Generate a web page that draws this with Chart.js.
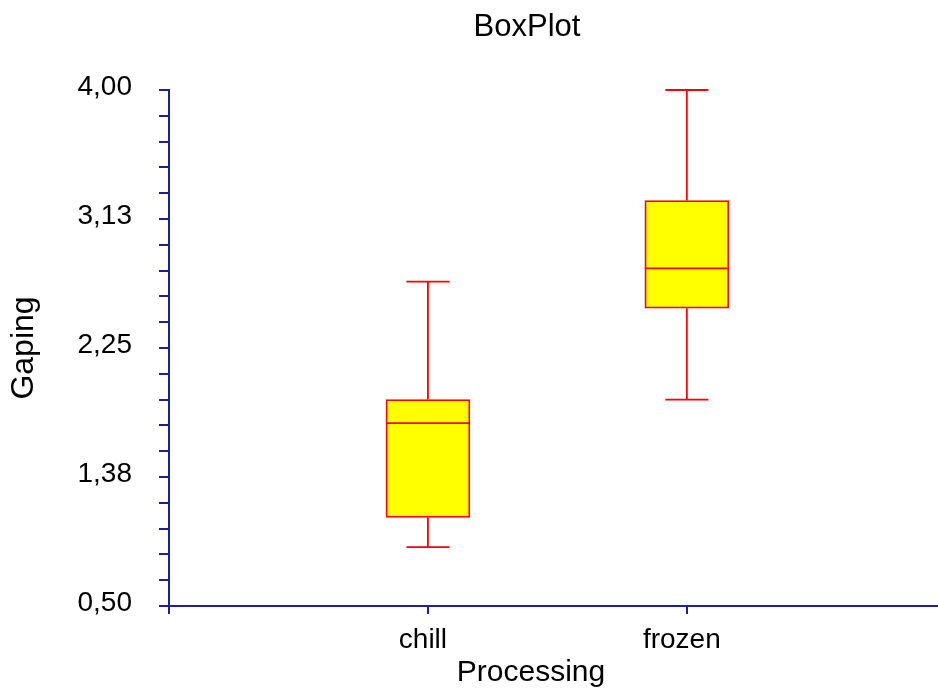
<!DOCTYPE html>
<html>
<head>
<meta charset="utf-8">
<title>BoxPlot</title>
<script src="https://cdn.jsdelivr.net/npm/chart.js@4.4.1/dist/chart.umd.min.js"></script>
<style>
  html, body { margin: 0; padding: 0; background: #fff; }
  #boxChart { display: block; }
</style>
</head>
<body>
<canvas id="boxChart" width="938" height="693"></canvas>
<script>
// values
const categories = ['chill', 'frozen'];
const whiskerLow = [0.90, 1.90];
const quartile1 = [1.10, 2.52];
const medians = [1.74, 2.79];
const quartile3 = [1.90, 3.25];
const whiskerHigh = [2.70, 4.00];

const yMajorTicks = [0.50, 1.375, 2.25, 3.125, 4.00];
const yTickLabels = ['0,50', '1,38', '2,25', '3,13', '4,00'];
const minorPerMajor = 5;

const AXIS_COLOR = '#1f1f96';
const BOX_FILL = '#ffff00';
const BOX_EDGE = '#ff0000';
const FONT = "'Liberation Sans', Arial, sans-serif";
const CAP_HALF = 21.5;

// categories sit at 1, 2 on a linear x axis, with an unlabelled tick at 0
const catPos = categories.map((_, i) => i + 1);
const xTickValues = [0, ...catPos];
const xTickLabels = ['', ...categories];

const yTickValues = [];
yMajorTicks.forEach((v, i) => {
  if (i === 0) {
    yTickValues.push(v);
    return;
  }
  const prev = yMajorTicks[i - 1];
  for (let k = 1; k <= minorPerMajor; k++) {
    yTickValues.push(prev + ((v - prev) * k) / minorPerMajor);
  }
});

Chart.defaults.font.family = FONT;
Chart.defaults.color = '#000';

// whiskers, caps and medians, drawn through the chart's own scales
const whiskerPlugin = {
  id: 'whiskers',
  afterDatasetsDraw(chart) {
    const { ctx, scales } = chart;
    const { x, y } = scales;
    const bars = chart.getDatasetMeta(0).data;
    ctx.save();
    ctx.strokeStyle = BOX_EDGE;
    ctx.lineWidth = 1.8;
    categories.forEach((name, i) => {
      const cx = x.getPixelForValue(catPos[i]);
      const half = bars[i] ? bars[i].width / 2 : 42;
      const yHi = y.getPixelForValue(whiskerHigh[i]);
      const yLo = y.getPixelForValue(whiskerLow[i]);
      const yQ1 = y.getPixelForValue(quartile1[i]);
      const yQ3 = y.getPixelForValue(quartile3[i]);
      const yMed = y.getPixelForValue(medians[i]);
      ctx.beginPath();
      ctx.moveTo(cx, yQ3);
      ctx.lineTo(cx, yHi);
      ctx.moveTo(cx - CAP_HALF, yHi);
      ctx.lineTo(cx + CAP_HALF, yHi);
      ctx.moveTo(cx, yQ1);
      ctx.lineTo(cx, yLo);
      ctx.moveTo(cx - CAP_HALF, yLo);
      ctx.lineTo(cx + CAP_HALF, yLo);
      ctx.moveTo(cx - half, yMed);
      ctx.lineTo(cx + half, yMed);
      ctx.stroke();
    });
    ctx.restore();
  },
};

// chart title and x axis title sit left of the plot centre in the original
const headingsPlugin = {
  id: 'headings',
  afterDraw(chart) {
    const { ctx } = chart;
    ctx.save();
    ctx.fillStyle = '#000';
    ctx.textAlign = 'center';
    ctx.textBaseline = 'alphabetic';
    ctx.font = `31px ${FONT}`;
    ctx.fillText('BoxPlot', 527, 36);
    ctx.font = `30px ${FONT}`;
    ctx.fillText('Processing', 531, 681);
    ctx.restore();
  },
};

new Chart(document.getElementById('boxChart'), {
  type: 'bar',
  data: {
    datasets: [
      {
        label: 'Gaping',
        data: categories.map((_, i) => ({ x: catPos[i], y: [quartile1[i], quartile3[i]] })),
        backgroundColor: BOX_FILL,
        borderColor: BOX_EDGE,
        borderWidth: 1.8,
        borderSkipped: false,
        barThickness: 84,
      },
    ],
  },
  options: {
    responsive: false,
    devicePixelRatio: 1,
    animation: false,
    layout: { padding: { top: 90, right: 0, bottom: 0, left: 0 } },
    plugins: {
      legend: { display: false },
      tooltip: { enabled: false },
      title: { display: false },
    },
    scales: {
      x: {
        type: 'linear',
        offset: false,
        min: 0,
        max: 2.97,
        afterBuildTicks: (scale) => {
          scale.ticks = xTickValues.map((v) => ({ value: v }));
        },
        afterFit: (scale) => {
          scale.height = 87;
        },
        ticks: {
          autoSkip: false,
          maxRotation: 0,
          padding: 9,
          labelOffset: -5,
          font: { size: 28 },
          color: '#000',
          callback: (value, index) => xTickLabels[index] ?? '',
        },
        grid: {
          offset: false,
          drawOnChartArea: false,
          drawTicks: true,
          tickLength: 8,
          color: AXIS_COLOR,
          lineWidth: 2,
        },
        border: { color: AXIS_COLOR, width: 2 },
      },
      y: {
        type: 'linear',
        min: yMajorTicks[0],
        max: yMajorTicks[yMajorTicks.length - 1],
        afterBuildTicks: (scale) => {
          scale.ticks = yTickValues.map((v) => ({ value: v }));
        },
        afterFit: (scale) => {
          scale.width = 169;
        },
        ticks: {
          autoSkip: false,
          padding: 27,
          labelOffset: -3,
          font: { size: 28 },
          color: '#000',
          callback: (value, index) =>
            index % minorPerMajor === 0 ? yTickLabels[index / minorPerMajor] : '',
        },
        grid: {
          drawOnChartArea: false,
          drawTicks: true,
          tickLength: 10,
          color: AXIS_COLOR,
          lineWidth: 2,
        },
        border: { color: AXIS_COLOR, width: 2 },
        title: {
          display: true,
          text: 'Gaping',
          color: '#000',
          font: { size: 32 },
          padding: { top: 5, bottom: 0 },
        },
      },
    },
  },
  plugins: [whiskerPlugin, headingsPlugin],
});
</script>
</body>
</html>
